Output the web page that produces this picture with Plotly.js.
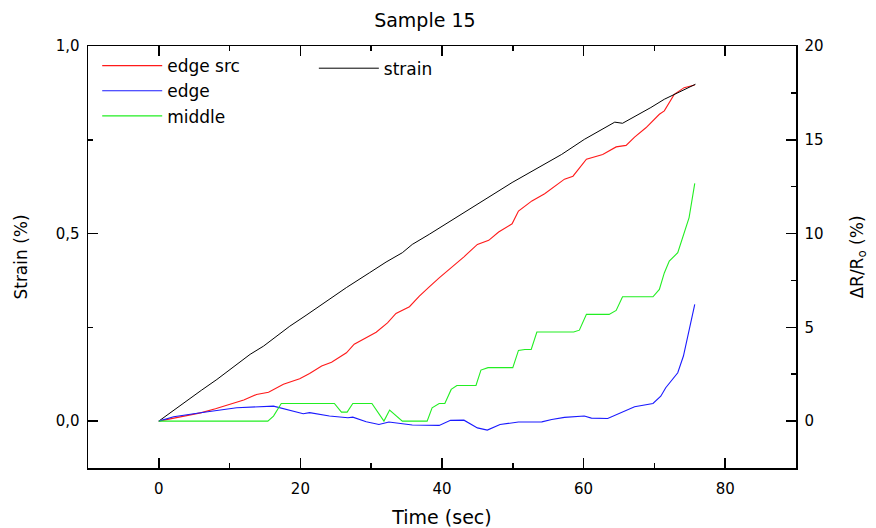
<!DOCTYPE html>
<html>
<head>
<meta charset="utf-8">
<script src="https://cdn.plot.ly/plotly-3.0.1.min.js"></script>
<style>html,body{margin:0;padding:0;background:#fff;}#chart{width:876px;height:528px;}</style>
</head>
<body>
<div id="chart"></div>
<script>
// Strain (left axis, %)
var strainTime = [0, 2, 4, 6, 8.2, 10.1, 12.9, 14.8, 18.5, 20.8, 24.1, 26.5, 29.8, 32.1, 34.4, 35.8, 38.2, 43.8, 49.9, 56.9, 60.1, 64.4, 65.5, 69.5, 71.4, 75.8];
var strainVals = [0, 0.028, 0.055, 0.082, 0.111, 0.138, 0.178, 0.2, 0.253, 0.282, 0.325, 0.356, 0.396, 0.424, 0.449, 0.471, 0.498, 0.565, 0.636, 0.711, 0.751, 0.797, 0.794, 0.836, 0.858, 0.898];

// edge src (left axis scale)
var edgeSrcTime = [0, 2, 5.9, 8, 10.1, 12, 13.8, 15.5, 17.6, 19.9, 21.3, 23, 24.4, 26.5, 27.6, 29, 30.7, 32.3, 33.5, 35.4, 36.8, 38.2, 39.6, 43.1, 45, 46.6, 48, 49.9, 50.8, 52.7, 54.5, 57.3, 58.5, 60.4, 62.7, 64.6, 66, 67.2, 68.8, 70.7, 71.4, 72.8, 74.2, 75.7];
var edgeSrcVals = [0, 0.008, 0.022, 0.033, 0.045, 0.056, 0.071, 0.077, 0.098, 0.113, 0.127, 0.147, 0.157, 0.182, 0.205, 0.22, 0.237, 0.262, 0.287, 0.305, 0.333, 0.358, 0.382, 0.438, 0.471, 0.482, 0.504, 0.526, 0.56, 0.587, 0.606, 0.645, 0.653, 0.698, 0.711, 0.731, 0.735, 0.757, 0.782, 0.818, 0.827, 0.871, 0.889, 0.896];

// edge (right axis, ΔR/R0 %)
var edgeTime = [0, 2.1, 5.9, 11, 16.2, 17.1, 20.4, 21.3, 24.1, 26.7, 27.4, 29.3, 31.1, 32.5, 35.8, 39.6, 41.2, 43.1, 45, 46.4, 48.2, 50.8, 54.1, 55.5, 57.3, 60.1, 61.1, 63.4, 65.8, 67.2, 69.8, 70.9, 71.6, 73.3, 74.1, 75.7];
var edgeVals = [0, 0.23, 0.45, 0.71, 0.8, 0.71, 0.39, 0.45, 0.27, 0.18, 0.21, -0.03, -0.18, -0.05, -0.21, -0.23, 0.04, 0.05, -0.36, -0.48, -0.18, -0.05, -0.04, 0.09, 0.2, 0.27, 0.16, 0.14, 0.53, 0.77, 0.94, 1.33, 1.78, 2.58, 3.47, 6.22];

// middle (right axis, ΔR/R0 %)
var middleTime = [0, 15.4, 16.2, 17.3, 24.8, 25.8, 26.6, 27.4, 30.1, 31.8, 32.6, 34.4, 37.9, 38.6, 39.6, 40.4, 41.3, 42.1, 44.8, 45.5, 46.5, 50, 50.8, 51.7, 52.6, 53.4, 58.6, 59.4, 60.4, 63.6, 64.6, 65.5, 69.8, 70.7, 71.4, 72.1, 73.3, 74.9, 75.7];
var middleVals = [0, 0, 0.27, 0.94, 0.94, 0.48, 0.48, 0.94, 0.94, 0, 0.59, 0, 0, 0.71, 0.94, 0.94, 1.69, 1.9, 1.9, 2.72, 2.85, 2.85, 3.77, 3.82, 3.82, 4.75, 4.75, 4.85, 5.69, 5.69, 5.9, 6.63, 6.63, 7.02, 7.9, 8.53, 8.98, 10.85, 12.68];

var xTickVals = [0, 20, 40, 60, 80];
var yTickVals = [0, 0.5, 1.0];
var y2TickVals = [0, 5, 10, 15, 20];

var FONT = 'DejaVu Sans, Liberation Sans, Arial, sans-serif';

var traces = [
  {x: edgeSrcTime, y: edgeSrcVals, name: 'edge src', mode: 'lines', yaxis: 'y', line: {color: '#ff1a1a', width: 1.1}, legend: 'legend'},
  {x: edgeTime, y: edgeVals, name: 'edge', mode: 'lines', yaxis: 'y2', line: {color: '#1a1aff', width: 1.1}, legend: 'legend'},
  {x: middleTime, y: middleVals, name: 'middle', mode: 'lines', yaxis: 'y2', line: {color: '#22ee22', width: 1.1}, legend: 'legend'},
  {x: strainTime, y: strainVals, name: 'strain', mode: 'lines', yaxis: 'y', line: {color: '#000000', width: 1}, legend: 'legend2'}
];

var axisCommon = {
  showgrid: false, zeroline: false, showline: true, linecolor: '#000', linewidth: 1.5,
  ticks: 'inside', ticklen: 10, tickwidth: 1.5, tickcolor: '#000',
  tickfont: {family: FONT, size: 15, color: '#000'}
};

var layout = {
  width: 876, height: 528,
  margin: {l: 88, r: 80, t: 46, b: 60},
  paper_bgcolor: '#fff', plot_bgcolor: '#fff',
  separators: ',.',
  font: {family: FONT, color: '#000'},
  title: {text: 'Sample 15', font: {family: FONT, size: 19, color: '#000'}, xref: 'container', x: 0.485, xanchor: 'center', yref: 'container', y: 0.962, yanchor: 'middle'},
  xaxis: Object.assign({}, axisCommon, {
    range: [-10, 90], tickvals: xTickVals, mirror: 'ticks', ticklabelstandoff: 6,
    minor: {dtick: 10, tick0: 0, ticks: 'inside', ticklen: 5, tickwidth: 1.5, tickcolor: '#000'},
    title: {text: 'Time (sec)', font: {family: FONT, size: 19, color: '#000'}, standoff: 14}
  }),
  yaxis: Object.assign({}, axisCommon, {
    range: [-0.125, 1.0], tickvals: yTickVals, tickformat: '.1f', ticklabelstandoff: 4,
    minor: {dtick: 0.25, tick0: 0, ticks: 'inside', ticklen: 5, tickwidth: 1.5, tickcolor: '#000'},
    title: {text: 'Strain (%)', font: {family: FONT, size: 17, color: '#000'}, standoff: 23}
  }),
  yaxis2: Object.assign({}, axisCommon, {
    overlaying: 'y', side: 'right', range: [-2.5, 20], tickvals: y2TickVals, ticklabelstandoff: 4,
    minor: {dtick: 2.5, tick0: 0, ticks: 'inside', ticklen: 5, tickwidth: 1.5, tickcolor: '#000'},
    title: {text: 'ΔR/R<sub>o</sub> (%)', font: {family: FONT, size: 17, color: '#000'}, standoff: 28}
  }),
  legend: {x: 0.013, y: 0.995, xanchor: 'left', yanchor: 'top', bgcolor: 'rgba(0,0,0,0)', itemwidth: 60,
    font: {family: FONT, size: 17, color: '#000'}, tracegroupgap: 0},
  legend2: {x: 0.319, y: 0.989, xanchor: 'left', yanchor: 'top', bgcolor: 'rgba(0,0,0,0)', itemwidth: 60,
    font: {family: FONT, size: 17, color: '#000'}},
  showlegend: true
};

Plotly.newPlot('chart', traces, layout, {displayModeBar: false, staticPlot: true});
</script>
</body>
</html>
